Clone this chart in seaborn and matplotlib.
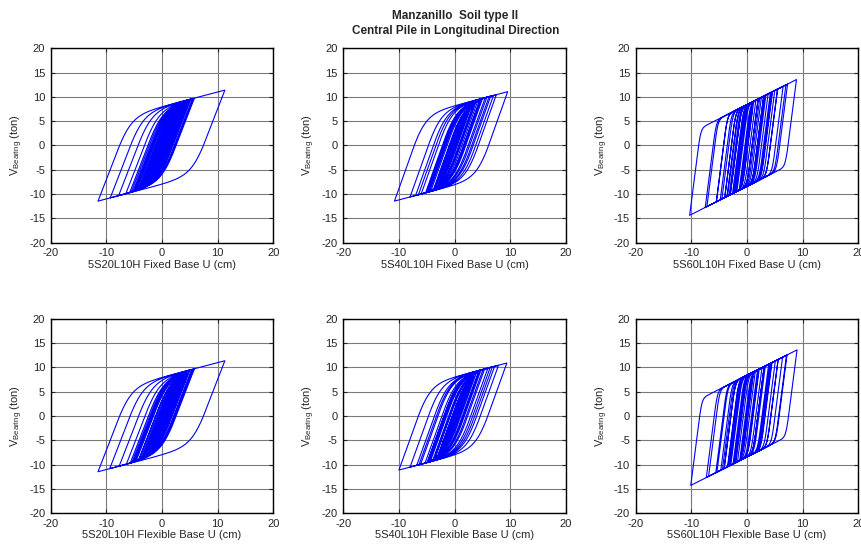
import numpy as np
import pandas as pd
import matplotlib
matplotlib.use("Agg")
import matplotlib.pyplot as plt
import seaborn as sns

# ---------------- data ----------------
title_text = "Manzanillo  Soil type II\nCentral Pile in Longitudinal Direction"
panel_labels = [
    "5S20L10H Fixed Base U (cm)", "5S40L10H Fixed Base U (cm)", "5S60L10H Fixed Base U (cm)",
    "5S20L10H Flexible Base U (cm)", "5S40L10H Flexible Base U (cm)", "5S60L10H Flexible Base U (cm)",
]
y_label = r"V$_{\mathregular{Bearing}}$ (ton)"
x_ticks = [-20, -10, 0, 10, 20]
y_ticks = [-20, -15, -10, -5, 0, 5, 10, 15, 20]

# displacement reversal points (cm) of each bearing history
rev_s20_fixed = [0.8, -0.9, 1.5, -1.6, 2.4, -2.2, 3.5, -3.0, 4.5, -5.0, 5.8, -9.3, 5.0, -11.5, 11.3,
                 -7.8, 5.5, -6.5, 5.2, -5.8, 4.8, -5.5, 5.6, -4.8, 4.6, -5.2, 4.2, -4.5, 4.4, -4.0,
                 3.9, -4.2, 3.6, -3.8, 4.0, -3.5, 3.2, -3.4, 3.0, -3.0, 2.8, -2.6, 3.1, -2.8, 2.6,
                 -2.4, 2.2, -2.0, 2.4, -2.2, 1.8, -1.6, 2.0, -1.7, 1.5, -1.2, 1.0, -0.8, 0.6]
rev_s40_fixed = [1.0, -1.2, 2.0, -2.5, 3.5, -3.5, 4.5, -4.5, 7.5, -8.0, 6.5, -10.8, 9.55, -7.0,
                 7.0, -6.5, 5.8, -6.0, 5.5, -5.2, 6.2, -4.8, 5.0, -5.0, 4.6, -4.6, 4.2, -4.2,
                 4.8, -3.8, 3.8, -3.6, 3.4, -3.4, 3.0, -3.0, 3.6, -2.8, 2.6, -2.6, 2.2, -2.2,
                 2.5, -2.0, 1.8, -1.8, 1.4, -1.2, 1.0, -0.7]
rev_s60_fixed = [1.0, -1.2, 2.0, -2.2, 3.0, -3.5, 4.5, -4.0, 5.5, -5.5, 7.3, -10.3, 8.9, -7.5,
                 7.0, -7.2, 6.5, -5.5, 5.5, -4.8, 5.0, -4.5, 4.6, -4.0, 4.2, -3.6, 3.8, -3.2,
                 4.4, -3.0, 3.4, -3.0, 3.0, -2.6, 2.6, -2.4, 3.2, -2.2, 2.3, -2.0, 2.0, -1.8,
                 1.6, -1.4, 1.2, -1.0, 0.8]
rev_s20_flex = [0.9, -1.0, 1.6, -1.7, 2.5, -2.3, 3.6, -3.1, 4.6, -5.1, 5.8, -9.4, 5.0, -11.5, 11.3,
                -7.7, 5.6, -6.4, 5.3, -5.7, 4.9, -5.4, 5.5, -4.9, 4.5, -5.1, 4.3, -4.6, 4.3, -4.1,
                3.8, -4.1, 3.7, -3.7, 3.9, -3.4, 3.3, -3.3, 2.9, -3.1, 2.7, -2.7, 3.0, -2.7, 2.5,
                -2.3, 2.3, -2.1, 2.3, -2.1, 1.9, -1.5, 1.9, -1.6, 1.4, -1.1, 1.0, -0.7, 0.5]
rev_s40_flex = [1.1, -1.1, 2.1, -2.4, 3.4, -3.6, 4.4, -4.6, 7.9, -8.0, 6.8, -10.0, 9.4, -6.8,
                7.2, -6.4, 6.0, -6.1, 5.4, -5.3, 6.4, -4.9, 5.1, -4.9, 4.5, -4.5, 4.3, -4.3,
                4.7, -3.9, 3.9, -3.5, 3.3, -3.5, 3.1, -2.9, 3.5, -2.9, 2.7, -2.5, 2.3, -2.3,
                2.4, -1.9, 1.7, -1.7, 1.3, -1.1, 0.9, -0.6]
rev_s60_flex = [1.1, -1.1, 2.1, -2.3, 3.1, -3.4, 4.4, -4.1, 5.6, -5.4, 7.2, -10.1, 9.0, -7.3,
                7.1, -6.9, 6.4, -5.6, 5.6, -4.7, 5.1, -4.4, 4.5, -4.1, 4.1, -3.5, 3.9, -3.3,
                4.3, -3.1, 3.3, -2.9, 3.1, -2.5, 2.7, -2.3, 3.1, -2.1, 2.2, -2.0, 1.9, -1.7,
                1.5, -1.3, 1.1, -0.9, 0.7]
reversals = [rev_s20_fixed, rev_s40_fixed, rev_s60_fixed, rev_s20_flex, rev_s40_flex, rev_s60_flex]

# bearing parameters read from the loops: characteristic strength Qd (ton),
# post-yield stiffness kp (ton/cm), yield displacement uy (cm), sharpness n
bearing_Qd = [8.0, 8.2, 8.4, 8.0, 8.1, 8.4]
bearing_kp = [0.30, 0.30, 0.58, 0.30, 0.30, 0.58]
bearing_uy = [3.0, 2.8, 1.0, 3.0, 2.8, 1.0]
bearing_n = [2.0, 2.0, 4.0, 2.0, 2.0, 4.0]


def bearing_response(peaks, Qd, kp, uy, n, step=0.02):
    """Bouc-Wen hysteretic force along the displacement history."""
    u, z = 0.0, 0.0
    us, fs = [0.0], [0.0]
    for target in peaks:
        nsteps = max(int(abs(target - u) / step), 1)
        du = (target - u) / nsteps
        for _ in range(nsteps):
            if du * z > 0:
                dz = du / uy * (1.0 - abs(z) ** n)
            else:
                dz = du / uy
            z = min(max(z + dz, -1.0), 1.0)
            u += du
            us.append(u)
            fs.append(kp * u + Qd * z)
    return np.array(us), np.array(fs)


# ---------------- figure ----------------
sns.set_style("ticks")
plt.rcParams["font.family"] = ["Liberation Sans", "DejaVu Sans"]
plt.rcParams["font.size"] = 8
plt.rcParams["axes.unicode_minus"] = False

fig = plt.figure(figsize=(8.61, 5.44), dpi=100)
lefts = [0.0589, 0.3987, 0.7383]
bottoms = [0.5539, 0.0564]
w, h = 0.2585, 0.3574

for i in range(6):
    r, c = divmod(i, 3)
    ax = fig.add_axes([lefts[c], bottoms[r], w, h])
    u, f = bearing_response(reversals[i], bearing_Qd[i], bearing_kp[i], bearing_uy[i], bearing_n[i])
    df = pd.DataFrame({"u": u, "V": f})
    sns.lineplot(data=df, x="u", y="V", sort=False, estimator=None, color="#0000FF",
                 linewidth=0.8, ax=ax)
    ax.set_xlim(-20, 20)
    ax.set_ylim(-20, 20)
    ax.set_xticks(x_ticks)
    ax.set_yticks(y_ticks)
    ax.grid(True, color="#7a7a7a", linestyle="-", linewidth=0.8)
    ax.set_axisbelow(True)
    ax.tick_params(direction="in", length=3, labelsize=8, pad=4, top=True, right=True)
    for s in ax.spines.values():
        s.set_color("black")
        s.set_linewidth(1.0)
    ax.set_xlabel(panel_labels[i], fontsize=8, labelpad=1)
    ax.set_ylabel(y_label, fontsize=8, labelpad=3)

fig.text(0.529, 0.981, title_text, ha="center", va="top", fontsize=8.5,
         fontweight="bold", linespacing=1.3)

fig.savefig("out.png", dpi=100)
